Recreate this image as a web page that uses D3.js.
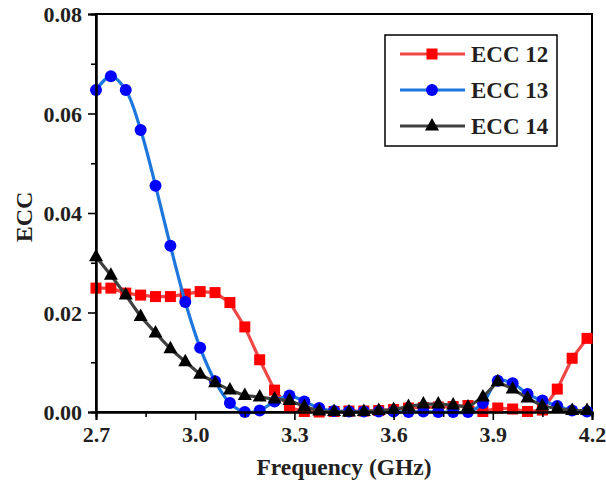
<!DOCTYPE html>
<html><head><meta charset="utf-8">
<script src="https://cdn.jsdelivr.net/npm/d3@7"></script>
<style>body{margin:0;background:#fff}svg{display:block}</style>
</head><body>
<svg id="c" width="606" height="488"></svg>
<script>
const freq = [2.700, 2.745, 2.790, 2.835, 2.880, 2.925, 2.970, 3.015, 3.060, 3.105, 3.150, 3.195, 3.240, 3.285, 3.330, 3.375, 3.420, 3.465, 3.510, 3.555, 3.600, 3.645, 3.690, 3.735, 3.780, 3.825, 3.870, 3.915, 3.960, 4.005, 4.050, 4.095, 4.140, 4.185];
const ecc12 = [0.0249, 0.0249, 0.0239, 0.0235, 0.0232, 0.0232, 0.0237, 0.0242, 0.0240, 0.0220, 0.0171, 0.0105, 0.0044, 0.0009, 0.0001, 0.0000, 0.0001, 0.0002, 0.0002, 0.0003, 0.0005, 0.0008, 0.0009, 0.0010, 0.0011, 0.0013, 0.0001, 0.0008, 0.0006, 0.0001, 0.0004, 0.0046, 0.0108, 0.0148];
const ecc13 = [0.0647, 0.0675, 0.0647, 0.0567, 0.0455, 0.0334, 0.0221, 0.0129, 0.0062, 0.0018, 0.0000, 0.0003, 0.0021, 0.0033, 0.0021, 0.0008, 0.0002, 0.0001, 0.0001, 0.0001, 0.0001, 0.0000, 0.0001, 0.0000, 0.0000, 0.0000, 0.0018, 0.0063, 0.0058, 0.0036, 0.0023, 0.0012, 0.0003, 0.0001];
const ecc14 = [0.0312, 0.0275, 0.0235, 0.0192, 0.0159, 0.0127, 0.0101, 0.0076, 0.0059, 0.0044, 0.0033, 0.0030, 0.0026, 0.0023, 0.0011, 0.0002, 0.0001, 0.0000, 0.0001, 0.0003, 0.0005, 0.0011, 0.0016, 0.0016, 0.0014, 0.0010, 0.0030, 0.0061, 0.0046, 0.0028, 0.0012, 0.0007, 0.0003, 0.0003];
const seriesNames = ["ECC 12", "ECC 13", "ECC 14"];
const xTicks = [2.7, 3.0, 3.3, 3.6, 3.9, 4.2];
const yTicks = [0.00, 0.02, 0.04, 0.06, 0.08];

const svg = d3.select("#c");
const W = 606, H = 488;
const m = {l: 96, r: 14, t: 14, b: 76};
const x = d3.scaleLinear().domain([2.7, 4.2]).range([m.l, W - m.r]);
const y = d3.scaleLinear().domain([0, 0.08]).range([H - m.b, m.t]);
const font = "'Liberation Serif','Times New Roman',serif";

const series = [
  {name: seriesNames[0], vals: ecc12, line: "#f04646", mark: "#ff0000", shape: "square", curve: d3.curveLinear},
  {name: seriesNames[1], vals: ecc13, line: "#1c76de", mark: "#0000ff", shape: "circle", curve: d3.curveCatmullRom},
  {name: seriesNames[2], vals: ecc14, line: "#404040", mark: "#000000", shape: "triangle", curve: d3.curveLinear}
];

function marker(g, shape, color) {
  if (shape === "square") g.append("rect").attr("x", -5.5).attr("y", -5.5).attr("width", 11).attr("height", 11).attr("fill", color);
  else if (shape === "circle") g.append("circle").attr("r", 6).attr("fill", color);
  else g.append("path").attr("d", "M0,-8L7,4.5L-7,4.5Z").attr("fill", color);
}

// frame
svg.append("rect").attr("x", m.l).attr("y", m.t).attr("width", W - m.r - m.l).attr("height", H - m.b - m.t)
  .attr("fill", "none").attr("stroke", "#000").attr("stroke-width", 2);

// series
series.forEach(s => {
  const pts = freq.map((f, i) => [f, s.vals[i]]);
  const g = svg.append("g");
  g.append("path").datum(pts)
    .attr("d", d3.line().x(d => x(d[0])).y(d => y(d[1])).curve(s.curve))
    .attr("fill", "none").attr("stroke", s.line).attr("stroke-width", 3.2);
  pts.forEach(p => marker(g.append("g").attr("transform", `translate(${x(p[0])},${y(p[1])})`), s.shape, s.mark));
});

// axes
const xAxis = svg.append("g").attr("transform", `translate(0,${H - m.b})`)
  .call(d3.axisBottom(x).tickValues(xTicks).tickFormat(d3.format(".1f")).tickSize(8).tickPadding(6));
const xMinor = svg.append("g").attr("transform", `translate(0,${H - m.b})`)
  .call(d3.axisBottom(x).tickValues([2.85, 3.15, 3.45, 3.75, 4.05]).tickFormat("").tickSize(5));
const yAxis = svg.append("g").attr("transform", `translate(${m.l},0)`)
  .call(d3.axisLeft(y).tickValues(yTicks).tickFormat(d3.format(".2f")).tickSize(8).tickPadding(6));
const yMinor = svg.append("g").attr("transform", `translate(${m.l},0)`)
  .call(d3.axisLeft(y).tickValues([0.01, 0.03, 0.05, 0.07]).tickFormat("").tickSize(5));
[xAxis, xMinor, yAxis, yMinor].forEach(a => {
  a.select(".domain").attr("stroke-width", 2);
  a.selectAll(".tick line").attr("stroke-width", 1.6);
  a.selectAll("text").attr("font-family", font).attr("font-weight", "bold").attr("font-size", 22).attr("fill", "#231f20");
});
xAxis.selectAll("text").attr("dy", "0.72em");
yAxis.selectAll("text").attr("dy", "0.35em");

// titles
svg.append("text").attr("x", (m.l + W - m.r) / 2).attr("y", 475).attr("text-anchor", "middle")
  .attr("font-family", font).attr("font-weight", "bold").attr("font-size", 23.5).attr("fill", "#231f20")
  .text("Frequency (GHz)");
svg.append("text").attr("transform", "translate(32,217) rotate(-90)").attr("text-anchor", "middle")
  .attr("font-family", font).attr("font-weight", "bold").attr("font-size", 24).attr("fill", "#231f20")
  .text("ECC");

// legend
const lg = svg.append("g");
lg.append("rect").attr("x", 385).attr("y", 35).attr("width", 172).attr("height", 111)
  .attr("fill", "#fff").attr("stroke", "#000").attr("stroke-width", 1.5);
series.forEach((s, i) => {
  const cy = 54 + i * 36;
  lg.append("line").attr("x1", 400).attr("x2", 465).attr("y1", cy).attr("y2", cy)
    .attr("stroke", s.line).attr("stroke-width", 3.2);
  marker(lg.append("g").attr("transform", `translate(432,${cy})`), s.shape, s.mark);
  lg.append("text").attr("x", 471).attr("y", cy).attr("dy", "0.35em")
    .attr("font-family", font).attr("font-weight", "bold").attr("font-size", 23).attr("fill", "#231f20")
    .text(s.name);
});
</script>
</body></html>
